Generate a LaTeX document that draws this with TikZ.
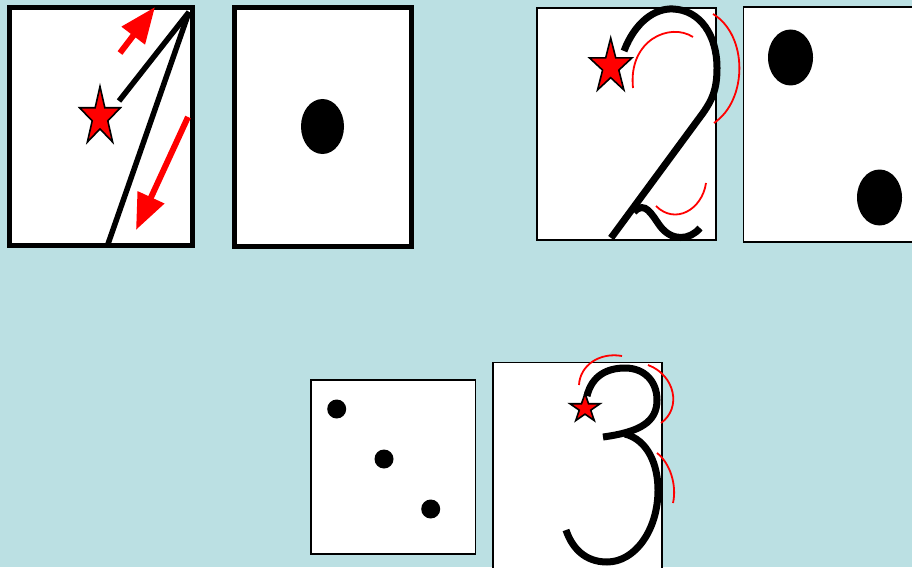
\documentclass[tikz,border=0pt]{standalone}
\usetikzlibrary{arrows.meta}
\definecolor{bgblue}{RGB}{187,224,227}
\definecolor{starred}{RGB}{255,0,0}
\tikzset{
  thickbox/.style={draw=black, fill=white, line width=5pt},
  thinbox/.style={draw=black, fill=white, line width=1.8pt},
  dot/.style={fill=black},
  glyph/.style={draw=black, line width=7pt},
  strokeline/.style={draw=black, line width=5.5pt},
  guide/.style={draw=starred, line width=1.8pt},
  redarrow/.style={draw=starred, line width=6pt, -{Triangle[length=36pt,width=28pt]}},
  starsty/.style={draw=black, fill=starred, line width=1.6pt, line join=miter},
}
\newcommand\mystarshape[1]{%
  (-90:#1) -- (-54:0.382*#1) -- (-18:#1) -- (18:0.382*#1) -- (54:#1) -- (90:0.382*#1)
  -- (126:#1) -- (162:0.382*#1) -- (198:#1) -- (234:0.382*#1) -- cycle}
\begin{document}
\begin{tikzpicture}[x=1pt,y=-1pt]
\fill[bgblue] (0,0) rectangle (912,567);
\useasboundingbox (0,0) rectangle (912,567);

% ---------- Box 1: the "1"
\draw[thickbox] (9,7.5) rectangle (192,245.5);
\coordinate (apex) at (189,12);
\coordinate (longend) at (108,244);
\coordinate (shortend) at (119,101);
\draw[strokeline] (apex) -- (longend);
\draw[strokeline] (apex) -- (shortend);
\coordinate (a1tail) at (120,53);
\coordinate (a1tip) at (155,7);
\coordinate (a2tail) at (188,117);
\coordinate (a2tip) at (136,230);
\draw[redarrow] (a1tail) -- (a1tip);
\draw[redarrow] (a2tail) -- (a2tip);
\begin{scope}[shift={(100,117.2)}, xscale=0.7]
  \draw[starsty] \mystarshape{30.7};
\end{scope}

% ---------- Box 2: one dot
\draw[thickbox] (234,7.5) rectangle (411,246);
\fill[dot] (322.5,126.5) ellipse [x radius=21.5, y radius=27.5];

% ---------- Box 3: the "2"
\draw[thinbox] (537,8) rectangle (716,240);
\draw[glyph] (624,51) .. controls (635,22) and (655,8) .. (673,9)
  .. controls (700,10) and (717,35) .. (717,68)
  .. controls (717,90) and (712,100) .. (703,113) -- (611,238);
\draw[glyph] (634,212) .. controls (645,200) and (652,215) .. (660,226)
  .. controls (672,242) and (690,240) .. (700,228);
\draw[guide] (633,88) .. controls (628,40) and (670,22) .. (693,37);
\draw[guide] (713,14) .. controls (748,35) and (748,100) .. (714,123);
\draw[guide] (706,183) .. controls (702,210) and (675,225) .. (656,206);
\begin{scope}[shift={(610.7,66.7)}, xscale=0.78]
  \draw[starsty] \mystarshape{28.7};
\end{scope}

% ---------- Box 4: two dots
\draw[thinbox] (743.5,7) rectangle (920,242);
\fill[dot] (790.5,57.5) ellipse [x radius=22.5, y radius=28];
\fill[dot] (879.5,197.5) ellipse [x radius=22.5, y radius=28];

% ---------- Box 5: three dots
\draw[thinbox] (311,380) rectangle (475.5,554);
\fill[dot] (336.7,409) circle [radius=9.5];
\fill[dot] (384,459) circle [radius=9.5];
\fill[dot] (430.7,509) circle [radius=9.5];

% ---------- Box 6: the "3"
\draw[thinbox] (493,362.5) rectangle (662,575);
\draw[glyph] (587,396) .. controls (592,375) and (608,368) .. (625,368)
  .. controls (645,368) and (657,382) .. (657,400)
  .. controls (657,422) and (640,432) .. (603,437);
\draw[glyph] (625,434) .. controls (648,440) and (658,465) .. (658,490)
  .. controls (658,530) and (635,562) .. (607,562)
  .. controls (585,562) and (572,548) .. (566,530);
\draw[guide] (579,385) .. controls (580,365) and (600,352) .. (622,356);
\draw[guide] (648,365) .. controls (675,375) and (682,408) .. (661,423);
\draw[guide] (657,453) .. controls (670,463) and (677,485) .. (673,503);
\begin{scope}[shift={(585,408.4)}, xscale=1.05]
  \draw[starsty] \mystarshape{15};
\end{scope}
\end{tikzpicture}
\end{document}
